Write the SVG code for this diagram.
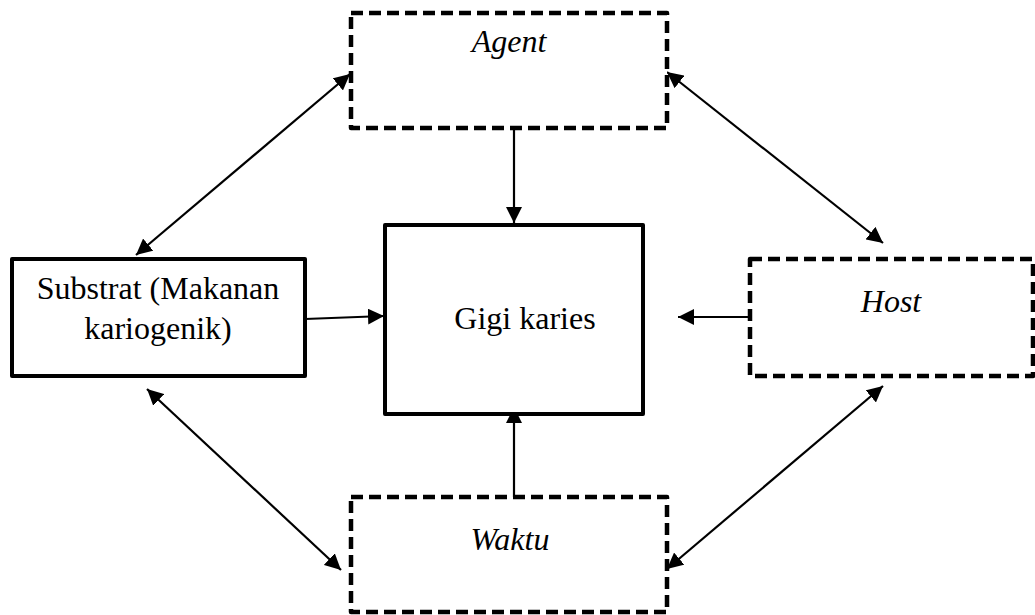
<svg xmlns="http://www.w3.org/2000/svg" width="1035" height="615" viewBox="0 0 1035 615">
<style>
.box{fill:#fff;stroke:#000;stroke-width:4;stroke-linejoin:round}
.dash{stroke-width:4.5;stroke-dasharray:12 6}
.t{font-family:"Liberation Serif","Times New Roman",serif;font-size:32px;fill:#000;text-anchor:middle}
.i{font-style:italic}
.c{stroke:#000;stroke-width:2.2;fill:none}
</style>
<defs>
<marker id="ah" viewBox="0 0 16 16" refX="16" refY="8" markerWidth="16" markerHeight="16" markerUnits="userSpaceOnUse" orient="auto-start-reverse">
<path d="M0,0 L16,8 L0,16 z" fill="#000"/>
</marker>
</defs>
<rect width="1035" height="615" fill="#fff"/>
<g id="connectors">
<line class="c" x1="514" y1="128" x2="514" y2="223" marker-end="url(#ah)"/>
<line class="c" x1="514" y1="497" x2="514" y2="407" marker-end="url(#ah)"/>
<line class="c" x1="305" y1="319" x2="384" y2="316" marker-end="url(#ah)"/>
<line class="c" x1="750" y1="317" x2="678" y2="317" marker-end="url(#ah)"/>
<line class="c" x1="136" y1="255" x2="350" y2="74" marker-start="url(#ah)" marker-end="url(#ah)"/>
<line class="c" x1="667" y1="72" x2="883" y2="243" marker-start="url(#ah)" marker-end="url(#ah)"/>
<line class="c" x1="147" y1="389" x2="341" y2="570" marker-start="url(#ah)" marker-end="url(#ah)"/>
<line class="c" x1="883" y1="386" x2="667" y2="569" marker-start="url(#ah)" marker-end="url(#ah)"/>
</g>
<g id="agent">
<rect class="box dash" x="351" y="13" width="316" height="115"/>
<text class="t i" x="509" y="52">Agent</text>
</g>
<g id="substrat">
<rect class="box" x="12" y="259" width="293" height="117"/>
<text class="t" x="158" y="299">Substrat (Makanan</text>
<text class="t" x="158" y="339">kariogenik)</text>
</g>
<g id="gigi">
<rect class="box" x="385" y="225" width="258" height="189"/>
<text class="t" x="525" y="329">Gigi karies</text>
</g>
<g id="host">
<rect class="box dash" x="750" y="259" width="283" height="117"/>
<text class="t i" x="891" y="312">Host</text>
</g>
<g id="waktu">
<rect class="box dash" x="351" y="497" width="316" height="115"/>
<text class="t i" x="510" y="550">Waktu</text>
</g>
</svg>
